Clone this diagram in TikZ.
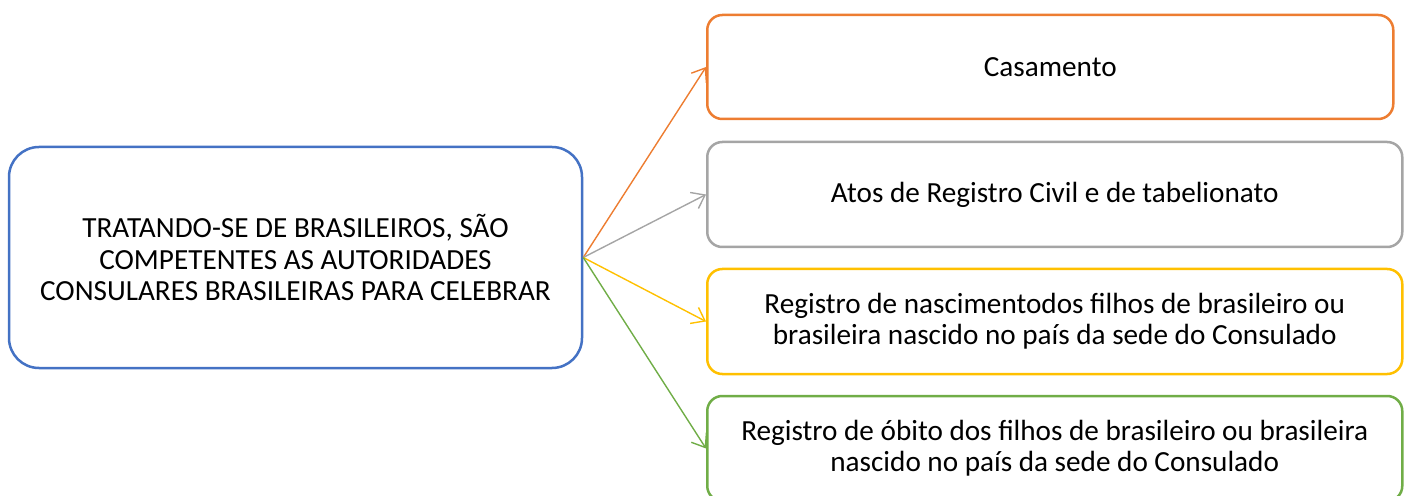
\documentclass[tikz,border=0pt]{standalone}
\usepackage{fontspec}
\setmainfont{Carlito}
\usetikzlibrary{arrows.meta}
\definecolor{cblue}{HTML}{4472C4}
\definecolor{corange}{HTML}{ED7D31}
\definecolor{cgray}{HTML}{A5A5A5}
\definecolor{cyellow}{HTML}{FFC000}
\definecolor{cgreen}{HTML}{70AD47}
\begin{document}
\begin{tikzpicture}[x=0.5pt,y=-0.5pt,
        box/.style={draw,line width=1.25pt,rounded corners=7.5pt,align=center,font=\fontsize{14.6}{15.6}\selectfont,inner sep=0pt,anchor=west,minimum height=52.5pt,minimum width=347.5pt},
        link/.style={line width=0.7pt,-{Straight Barb[length=6pt,width=9pt]}}]
    \useasboundingbox (0,0) rectangle (1406,496);
    \node[draw=cblue,line width=1.25pt,rounded corners=15pt,align=center,font=\fontsize{14.6}{15.6}\selectfont,minimum width=286.5pt,minimum height=110.5pt,inner sep=0pt](src)at(295.5,257.5){TRATANDO-SE DE BRASILEIROS, SÃO\\COMPETENTES AS AUTORIDADES\\CONSULARES BRASILEIRAS PARA CELEBRAR};
    \node[box,draw=corange,minimum width=343pt,minimum height=52pt](cas)at(706,67){Casamento};
    \node[box,draw=cgray](atos)at(706,194.5){Atos de Registro Civil e de tabelionato};
    \node[box,draw=cyellow](nasc)at(706,321.5){Registro de nascimentodos filhos de brasileiro ou\\brasileira nascido no país da sede do Consulado};
    \node[box,draw=cgreen](obito)at(706,448.5){Registro de óbito dos filhos de brasileiro ou brasileira\\nascido no país da sede do Consulado};
    \draw[link,corange](src.east)--(cas.west);
    \draw[link,cgray](src.east)--(atos.west);
    \draw[link,cyellow](src.east)--(nasc.west);
    \draw[link,cgreen](src.east)--(obito.west);
\end{tikzpicture}
\end{document}
